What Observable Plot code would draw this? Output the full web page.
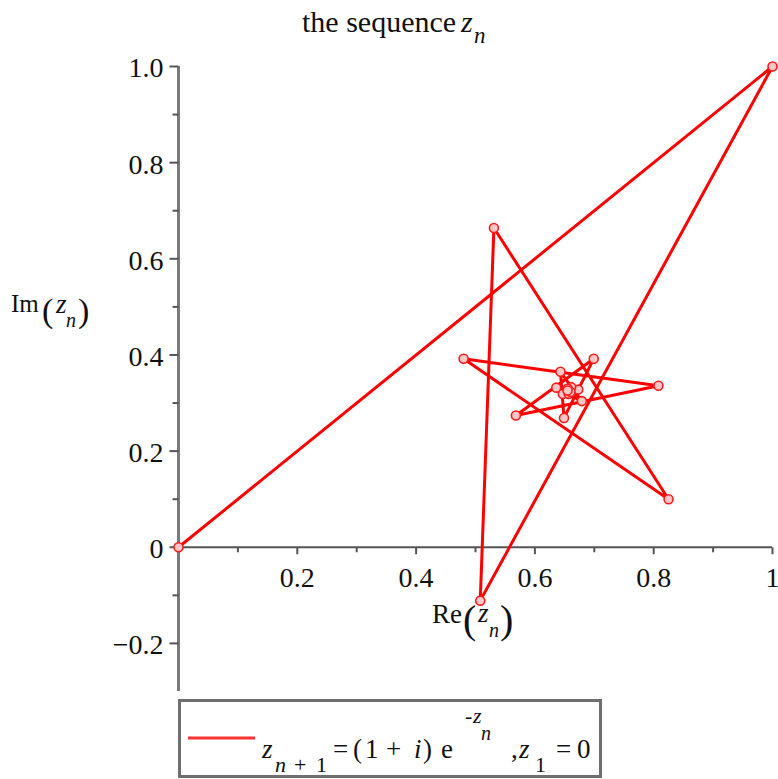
<!DOCTYPE html>
<html>
<head>
<meta charset="utf-8">
<script src="https://cdn.jsdelivr.net/npm/d3@7"></script>
<script src="https://cdn.jsdelivr.net/npm/@observablehq/plot@0.6"></script>
<style>
  html, body { margin: 0; padding: 0; background: #fff; }
  #chart { width: 778px; height: 779px; position: relative; }
  #chart svg { display: block; }
</style>
</head>
<body>
<div id="chart"></div>
<script>
// Iterates of z(n+1) = (1 + i) e^(-z(n)), z(1) = 0: real and imaginary parts
const reZ = [0, 1, 0.508, 0.531, 0.825, 0.480, 0.808, 0.568, 0.699, 0.649,
             0.643, 0.679, 0.636, 0.673, 0.647, 0.661, 0.657, 0.655, 0.660, 0.655];
const imZ = [0, 1, -0.111, 0.664, 0.100, 0.392, 0.336, 0.274, 0.392, 0.269,
             0.365, 0.304, 0.332, 0.328, 0.319, 0.333, 0.319, 0.330, 0.323, 0.326];

// Axis ticks and their labels
const xMajor = [0.2, 0.4, 0.6, 0.8, 1];
const xMajorLabels = ["0.2", "0.4", "0.6", "0.8", "1"];
const xMinor = [0.1, 0.3, 0.5, 0.7, 0.9];
const yMajor = [-0.2, 0, 0.2, 0.4, 0.6, 0.8, 1.0];
const yMajorLabels = ["\u22120.2", "0", "0.2", "0.4", "0.6", "0.8", "1.0"];
const yMinor = [-0.1, 0.1, 0.3, 0.5, 0.7, 0.9];

const seq = reZ.map((re, i) => ({n: i + 1, re, im: imZ[i]}));

const serif = "'Liberation Serif', 'Times New Roman', serif";

// Tick glyphs for Plot.dot: length equals the dot radius
const tickDown = {draw(ctx, size) { const l = Math.sqrt(size / Math.PI); ctx.moveTo(0, 0); ctx.lineTo(0, l); }};
const tickLeft = {draw(ctx, size) { const l = Math.sqrt(size / Math.PI); ctx.moveTo(0, 0); ctx.lineTo(-l, 0); }};

const axisColor = "#555";

const svg = Plot.plot({
  width: 778,
  height: 695,
  marginLeft: 178,
  marginRight: 6,
  marginTop: 66,
  marginBottom: 4,
  style: {fontFamily: serif, fontSize: "28px", color: "#111", background: "#fff"},
  x: {domain: [0, 1], axis: null},
  y: {domain: [-0.3, 1.0], axis: null},
  marks: [
    // axes crossing at the origin
    Plot.ruleX([0], {stroke: "#7a7a7a", strokeWidth: 3}),
    Plot.ruleY([0], {stroke: axisColor, strokeWidth: 2}),
    // x ticks below the axis
    Plot.dot(xMajor, {x: d => d, y: () => 0, symbol: tickDown, r: 7, stroke: axisColor, fill: "none", strokeWidth: 2}),
    Plot.dot(xMinor, {x: d => d, y: () => 0, symbol: tickDown, r: 5, stroke: axisColor, fill: "none", strokeWidth: 2}),
    // y ticks left of the axis
    Plot.dot(yMajor, {x: () => 0, y: d => d, symbol: tickLeft, r: 9, stroke: axisColor, fill: "none", strokeWidth: 2}),
    Plot.dot(yMinor, {x: () => 0, y: d => d, symbol: tickLeft, r: 6, stroke: axisColor, fill: "none", strokeWidth: 2}),
    // tick labels
    Plot.text(xMajor, {x: d => d, y: () => 0, text: (d, i) => xMajorLabels[i], dy: 31, fontSize: 28, fill: "#111"}),
    Plot.text(yMajor, {x: () => 0, y: d => d, text: (d, i) => yMajorLabels[i], textAnchor: "end", dx: -15, dy: 2, fontSize: 28, fill: "#111"}),
    // the sequence path and its points
    Plot.line(seq, {x: "re", y: "im", stroke: "#ff0000", strokeWidth: 3}),
    Plot.dot(seq, {x: "re", y: "im", r: 4.5, stroke: "#ff1a1a", fill: "#ffc8c8", strokeWidth: 1.6})
  ]
});

// Title and axis labels with sub/superscripts
const g = d3.select(svg).append("g").attr("font-family", serif).attr("fill", "#111")
  .attr("text-anchor", "start");
function put(sel, x, y, str, size, italic) {
  sel.append("text").attr("x", x).attr("y", y).attr("font-size", size)
    .attr("text-anchor", "start")
    .attr("font-style", italic ? "italic" : "normal").text(str);
}
put(g, 302, 32, "the sequence", 30);
put(g, 461, 32, "z", 30, true);
put(g, 474, 43, "n", 23, true);

put(g, 11, 312, "Im", 25);
put(g, 42, 322, "(", 34);
put(g, 56, 313, "z", 27, true);
put(g, 66, 327, "n", 20, true);
put(g, 78, 322, ")", 34);

put(g, 432, 623, "Re", 27);
put(g, 463, 633, "(", 40);
put(g, 478, 622, "z", 27, true);
put(g, 489, 637, "n", 20, true);
put(g, 500, 633, ")", 40);

document.getElementById("chart").appendChild(svg);

// Legend below the plot
const leg = d3.select("#chart").append("svg").attr("width", 778).attr("height", 84)
  .attr("font-family", serif).attr("fill", "#111");
leg.append("rect").attr("x", 179.5).attr("y", 5.5).attr("width", 421).attr("height", 76)
  .attr("fill", "none").attr("stroke", "#6e6e6e").attr("stroke-width", 3);
leg.append("line").attr("x1", 188).attr("x2", 255).attr("y1", 43).attr("y2", 43)
  .attr("stroke", "#ff3333").attr("stroke-width", 3);
// z_{n+1} = (1 + i) e^{-z_n}, z_1 = 0
put(leg, 262, 63, "z", 27, true);
put(leg, 275, 77, "n", 22, true);
put(leg, 294, 77, "+", 22);
put(leg, 316, 77, "1", 22);
put(leg, 333, 63, "=", 27);
put(leg, 353, 63, "(", 27);
put(leg, 365, 63, "1", 27);
put(leg, 386, 63, "+", 27);
put(leg, 414, 63, "i", 27, true);
put(leg, 423, 63, ")", 27);
put(leg, 441, 63, "e", 27);
put(leg, 465, 28, "-", 22);
put(leg, 473, 28, "z", 22, true);
put(leg, 481, 45, "n", 20, true);
put(leg, 511, 63, ",", 27);
put(leg, 519, 63, "z", 27, true);
put(leg, 535, 77, "1", 22);
put(leg, 556, 63, "=", 27);
put(leg, 577, 63, "0", 27);
</script>
</body>
</html>
